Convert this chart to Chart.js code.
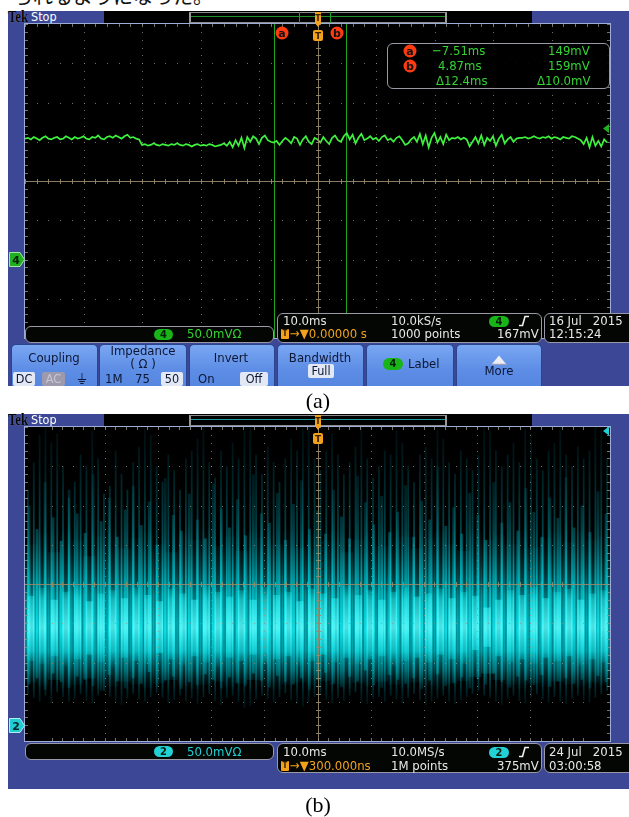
<!DOCTYPE html>
<html><head><meta charset="utf-8">
<script src="https://cdn.jsdelivr.net/npm/chart.js@4.4.1/dist/chart.umd.min.js"></script>
<style>
body{margin:0;width:629px;height:817px;overflow:hidden;background:#fff;position:relative;font-family:'DejaVu Sans Condensed','Liberation Sans Narrow','Roboto Condensed','DejaVu Sans',sans-serif;}
.a{position:absolute;box-sizing:border-box;}
.t{position:absolute;white-space:nowrap;line-height:14px;height:14px;font-size:13px;}
.c{transform:translateX(-50%);}
.frame{background:#3c4896;}
.hdr{background:#000;}
.gbox{border:1px solid #8c8c8c;border-left:2px solid #9a9a9a;border-right:2px solid #9a9a9a;}
.gridb{border:1px solid #9dadd6;background:#000;}
.rbox{border:1.5px solid #9a9aa6;border-radius:6px;background:#030603;}
.w{color:#e8e8e8}.g{color:#33d433}.o{color:#f4a21c}.cy{color:#22d0d6}
.badge{position:absolute;border-radius:6px;text-align:center;font-size:11px;line-height:11px;height:11px;font-weight:bold;color:#06200a;}
.btn{position:absolute;top:344px;height:42px;background:linear-gradient(#7aa7f3,#5d8de5 60%,#5687e0);border:1px solid #2a4590;border-bottom:none;border-radius:5px 5px 0 0;box-sizing:border-box;}
.bt{color:#0b1633;}
.sel{position:absolute;background:#e3e8f5;color:#0b1633;text-align:center;font-size:12.5px;line-height:14px;height:14px;border-radius:2px;}
.ser{font-family:'Liberation Serif','DejaVu Serif',serif;}
.tek{font-size:16px;line-height:14px;height:14px;font-weight:bold;color:#050505;white-space:nowrap;transform:scaleX(0.8);transform-origin:left center;text-shadow:0 0 1px #9aa3c4;}
</style></head>
<body>
<!-- caption fragment at top -->
<div class="a" style="left:13px;top:-15px;font-family:'Noto Sans CJK JP';font-size:20px;line-height:22px;color:#111;white-space:nowrap">られるようになった。</div>

<!-- ========== PANEL (a) ========== -->
<div class="a frame" style="left:8px;top:11px;width:621px;height:375px"></div>
<div class="a ser tek" style="left:8px;top:10px">Tek</div>
<div class="t" style="left:31px;top:10px;color:#fff;font-size:12.5px">Stop</div>
<div class="a hdr" style="left:104px;top:11px;width:428px;height:12px"></div>
<div class="a gbox" style="left:189px;top:12px;width:258px;height:11px"></div>
<div class="a" style="left:191px;top:16px;width:254px;height:1px;background:#1f8f1f"></div>
<div class="a" style="left:299px;top:12px;width:1px;height:11px;background:#1f9f1f"></div>
<div class="a" style="left:330px;top:12px;width:1px;height:11px;background:#1f9f1f"></div>
<div class="a gridb" style="left:24px;top:23px;width:587px;height:316px"></div>
<canvas id="cA" width="585" height="314" class="a" style="left:25px;top:24px"></canvas>
<svg class="a" style="left:312px;top:11px" width="12" height="31"><path d="M3,1 H9 V12 L6,16 L3,12 Z" fill="#f4a21c"/><text x="6" y="10" font-size="8" text-anchor="middle" font-family="DejaVu Sans" font-weight="bold" fill="#3a2000">T</text><rect x="1" y="19" width="10" height="11" rx="2" fill="#f4a21c"/><text x="6" y="28" font-size="9" text-anchor="middle" font-family="DejaVu Sans" font-weight="bold" fill="#3a2000">T</text></svg>
<svg class="a" style="left:275px;top:26px" width="15" height="15"><circle cx="7" cy="7" r="6.5" fill="#ff3b12"/><text x="7" y="11" font-size="11" text-anchor="middle" font-family="DejaVu Sans" font-weight="bold" fill="#111">a</text></svg>
<svg class="a" style="left:330px;top:26px" width="15" height="15"><circle cx="7" cy="7" r="6.5" fill="#ff3b12"/><text x="7" y="11" font-size="11" text-anchor="middle" font-family="DejaVu Sans" font-weight="bold" fill="#111">b</text></svg>
<!-- cursor readout -->
<div class="a rbox" style="left:387px;top:43px;width:223px;height:46px;background:rgba(0,0,0,0.9)"></div>
<svg class="a" style="left:403px;top:44px" width="15" height="15"><circle cx="7" cy="7" r="6.5" fill="#ff3b12"/><text x="7" y="11" font-size="11" text-anchor="middle" font-family="DejaVu Sans" font-weight="bold" fill="#111">a</text></svg>
<svg class="a" style="left:403px;top:59px" width="15" height="15"><circle cx="7" cy="7" r="6.5" fill="#ff3b12"/><text x="7" y="11" font-size="11" text-anchor="middle" font-family="DejaVu Sans" font-weight="bold" fill="#111">b</text></svg>
<div class="t g" style="left:432px;top:44px">−7.51ms</div>
<div class="t g" style="left:548px;top:44px">149mV</div>
<div class="t g" style="left:438px;top:59px">4.87ms</div>
<div class="t g" style="left:548px;top:59px">159mV</div>
<div class="t g" style="left:436px;top:74px">Δ12.4ms</div>
<div class="t g" style="left:537px;top:74px">Δ10.0mV</div>
<!-- ground marker -->
<svg class="a" style="left:9px;top:252px" width="17" height="15"><path d="M0.5,0.5 H11 L15.5,7.5 L11,14.5 H0.5 Z" fill="#22b022" stroke="#9fe89f" stroke-width="1"/><text x="7" y="12" font-size="11" text-anchor="middle" font-family="DejaVu Sans" font-weight="bold" fill="#062206">4</text></svg>
<!-- bottom readouts (a) -->
<div class="a rbox" style="left:25px;top:326px;width:249px;height:17px"></div>
<div class="badge" style="left:154px;top:329px;width:19px;background:#18b418">4</div>
<div class="t g" style="left:187px;top:327px">50.0mVΩ</div>
<div class="a rbox" style="left:277px;top:313px;width:265px;height:30px"></div>
<div class="t w" style="left:283px;top:314px">10.0ms</div>
<div class="t w" style="left:391px;top:314px">10.0kS/s</div>
<div class="badge" style="left:489px;top:316px;width:20px;background:#18b418">4</div>
<svg class="a" style="left:518px;top:315px" width="12" height="12"><path d="M1,10.5 H4.5 L7,1.5 H11" stroke="#f0f0f0" stroke-width="1.6" fill="none"/></svg>
<div class="a" style="left:281px;top:329px;width:8px;height:10px;background:#f4a21c;border-radius:1px;font-size:8px;line-height:10px;text-align:center;font-weight:bold;color:#2a1500">T</div>
<div class="t o" style="left:290px;top:327px">→▼0.00000 s</div>
<div class="t w" style="left:391px;top:327px">1000 points</div>
<div class="t w" style="left:497px;top:327px">167mV</div>
<div class="a rbox" style="left:544px;top:313px;width:95px;height:30px"></div>
<div class="t w" style="left:549px;top:314px;white-space:pre">16 Jul   2015</div>
<div class="t w" style="left:549px;top:327px">12:15:24</div>
<!-- buttons -->
<div class="btn" style="left:11px;width:87px"></div>
<div class="t bt c" style="left:54px;top:351px">Coupling</div>
<div class="sel" style="left:13px;top:372px;width:22px">DC</div>
<div class="sel" style="left:42px;top:372px;width:23px;background:#9d9aae;color:#c8c6d4">AC</div>
<div class="t bt" style="left:77px;top:372px;font-family:'DejaVu Sans';font-size:14px">⏚</div>
<div class="btn" style="left:99px;width:88px"></div>
<div class="t bt c" style="left:143px;top:344px">Impedance</div>
<div class="t bt c" style="left:143px;top:357px">( Ω )</div>
<div class="t bt" style="left:105px;top:372px">1M</div>
<div class="t bt" style="left:135px;top:372px">75</div>
<div class="sel" style="left:161px;top:372px;width:22px">50</div>
<div class="btn" style="left:189px;width:86px"></div>
<div class="t bt c" style="left:231px;top:351px">Invert</div>
<div class="t bt" style="left:198px;top:372px">On</div>
<div class="sel" style="left:240px;top:372px;width:28px">Off</div>
<div class="btn" style="left:277px;width:87px"></div>
<div class="t bt c" style="left:320px;top:351px">Bandwidth</div>
<div class="sel" style="left:308px;top:364px;width:26px;height:14px">Full</div>
<div class="btn" style="left:366px;width:88px"></div>
<div class="badge" style="left:383px;top:358px;width:20px;height:12px;line-height:12px;background:#18b418">4</div>
<div class="t bt" style="left:408px;top:357px">Label</div>
<div class="btn" style="left:456px;width:86px"></div>
<svg class="a" style="left:491px;top:355px" width="16" height="10"><path d="M8,0.5 L15.5,9.5 H0.5 Z" fill="#eceef6"/><path d="M0.5,9.5 H15.5" stroke="#9aa0b8" stroke-width="1.5"/></svg>
<div class="t bt c" style="left:499px;top:364px">More</div>
<div class="a ser" style="left:0;width:636px;top:388px;text-align:center;font-size:22px;line-height:26px;color:#000">(a)</div>

<!-- ========== PANEL (b) ========== -->
<div class="a frame" style="left:8px;top:414px;width:621px;height:375px"></div>
<div class="a ser tek" style="left:8px;top:413px">Tek</div>
<div class="t" style="left:31px;top:413px;color:#fff;font-size:12.5px">Stop</div>
<div class="a hdr" style="left:104px;top:414px;width:428px;height:12px"></div>
<div class="a gbox" style="left:189px;top:415px;width:258px;height:11px"></div>
<div class="a" style="left:191px;top:419px;width:254px;height:1px;background:#1a9a9a"></div>
<div class="a gridb" style="left:24px;top:426px;width:587px;height:316px"></div>
<canvas id="cB" width="585" height="314" class="a" style="left:25px;top:427px"></canvas>
<svg class="a" style="left:312px;top:414px" width="12" height="31"><path d="M3,1 H9 V12 L6,16 L3,12 Z" fill="#f4a21c"/><text x="6" y="10" font-size="8" text-anchor="middle" font-family="DejaVu Sans" font-weight="bold" fill="#3a2000">T</text><rect x="1" y="19" width="10" height="11" rx="2" fill="#f4a21c"/><text x="6" y="28" font-size="9" text-anchor="middle" font-family="DejaVu Sans" font-weight="bold" fill="#3a2000">T</text></svg>
<svg class="a" style="left:9px;top:718px" width="17" height="15"><path d="M0.5,0.5 H11 L15.5,7.5 L11,14.5 H0.5 Z" fill="#22ccd4" stroke="#a8f4f4" stroke-width="1"/><text x="7" y="12" font-size="11" text-anchor="middle" font-family="DejaVu Sans" font-weight="bold" fill="#032424">2</text></svg>
<div class="a rbox" style="left:25px;top:743px;width:249px;height:17px"></div>
<div class="badge" style="left:154px;top:746px;width:19px;background:#22d0d6">2</div>
<div class="t cy" style="left:187px;top:745px">50.0mVΩ</div>
<div class="a rbox" style="left:277px;top:743px;width:265px;height:30px"></div>
<div class="t w" style="left:283px;top:745px">10.0ms</div>
<div class="t w" style="left:391px;top:745px">10.0MS/s</div>
<div class="badge" style="left:489px;top:747px;width:20px;background:#22d0d6">2</div>
<svg class="a" style="left:518px;top:746px" width="12" height="12"><path d="M1,10.5 H4.5 L7,1.5 H11" stroke="#f0f0f0" stroke-width="1.6" fill="none"/></svg>
<div class="a" style="left:281px;top:761px;width:8px;height:10px;background:#f4a21c;border-radius:1px;font-size:8px;line-height:10px;text-align:center;font-weight:bold;color:#2a1500">T</div>
<div class="t o" style="left:290px;top:759px">→▼300.000ns</div>
<div class="t w" style="left:391px;top:759px">1M points</div>
<div class="t w" style="left:497px;top:759px">375mV</div>
<div class="a rbox" style="left:544px;top:743px;width:95px;height:30px"></div>
<div class="t w" style="left:549px;top:745px;white-space:pre">24 Jul   2015</div>
<div class="t w" style="left:549px;top:759px">03:00:58</div>
<div class="a ser" style="left:0;width:636px;top:792px;text-align:center;font-size:22px;line-height:26px;color:#000">(b)</div>

<script>
// ---------- shared axis divisions ----------
const timeDivsMs = [-50, -40, -30, -20, -10, 0, 10, 20, 30, 40, 50];

// ---------- panel (a): CH4, 50 mV/div, 10 ms/div, 10 kS/s ----------
const voltDivsA = [-100, -50, 0, 50, 100, 150, 200, 250, 300];
const traceA_startMs = -50;
const traceA_stepMs = 0.5;
const traceA_mV = [
  154,155,153,156,154,152,155,157,154,153,
  155,156,153,154,157,155,153,156,154,155,
  157,154,153,156,155,158,154,153,156,157,
  155,158,156,154,157,159,155,156,154,153,
  146,147,145,146,148,146,145,147,146,145,
  147,146,148,146,145,147,146,144,146,147,
  145,146,145,147,146,144,145,146,148,145,
  150,143,
  152,145,155,142,156,150,157,154,
  147,155,158,152,150,149,151,146,151,155,
  152,148,156,154,146,153,157,150,147,155,
  153,149,156,151,147,155,158,152,150,157,
  161,153,159,148,155,160,152,154,157,153,
  155,151,156,158,152,154,150,155,157,152,
  146,148,153,156,150,160,147,158,143,155,
  161,149,156,147,159,152,155,154,156,153,
  155,153,144,150,156,148,158,146,155,151,
  157,145,154,159,148,153,156,150,154,155,
  155,156,154,155,157,155,154,156,155,157,
  154,156,155,153,156,155,154,157,156,154,
  152,147,155,143,156,145,151,144,153,149
];
const cursorsMs = [-7.51, 4.87];
const triggerLevelA_mV = 167;

// ---------- panel (b): CH2, 50 mV/div, 10 ms/div, persistence envelope ----------
const voltDivsB = [-20, 30, 80, 130, 180, 230, 280, 330, 380];
const triggerLevelB_mV = 375;
// 100 columns (1 ms each): full extent of the tallest noise spikes
const spikeHiB = [
  300,335,370,380,360,372,330,290,310,345,
  330,375,340,295,305,350,320,300,335,355,
  378,370,330,310,345,325,300,340,350,365,
  380,335,315,350,330,360,340,375,380,345,
  320,355,335,310,340,365,350,378,382,340,
  325,350,372,345,320,335,355,380,340,315,
  330,350,345,376,360,330,310,345,355,340,
  378,365,335,320,350,340,325,345,380,376,
  350,330,345,360,335,378,372,340,325,350,
  360,382,345,330,355,340,350,380,376,340
];
const spikeLoB = [
  40,35,30,38,28,42,36,30,34,40,
  32,28,38,44,36,30,26,34,40,33,
  30,36,42,35,28,32,38,30,34,27,
  36,40,31,26,35,38,30,22,25,33,
  38,34,29,36,41,32,27,24,30,36,
  40,33,28,35,31,38,42,30,27,34,
  36,30,38,33,28,35,40,32,26,30,
  34,38,30,27,32,36,40,44,38,35,
  30,26,34,38,31,28,35,40,33,29,
  36,30,27,34,38,32,29,35,40,44
];
// 73 columns: medium-height streaks
const streakHiB = [
  280,250,310,265,235,300,270,245,320,260,
  290,240,275,305,255,285,230,315,268,248,
  295,262,238,308,276,252,288,242,320,270,
  258,296,236,282,312,250,274,244,300,266,
  238,318,284,256,292,246,272,306,240,286,
  262,330,254,278,244,296,268,236,310,258,
  284,248,302,272,240,290,264,316,252,280,
  246,298,270
];
const streakLoB = [
  52,60,45,66,55,48,62,58,50,44,
  64,56,47,60,53,68,49,57,62,46,
  55,51,65,58,47,61,54,50,66,57,
  48,63,55,52,60,45,58,67,53,49,
  62,56,70,51,48,64,58,53,60,46,
  57,65,50,54,61,47,59,52,66,55,
  48,62,57,51,64,49,56,60,53,58,
  47,63,55
];
// 50 columns (2 ms each): dense body and bright core of the band
const bodyHiB = [230,245,220,250,235,215,240,255,225,238,248,230,220,245,236,252,228,240,222,246,238,230,250,226,242,234,248,220,236,244,228,252,240,225,238,246,230,222,248,236,242,230,250,226,238,244,232,248,236,240];
const bodyLoB = [55,50,58,48,52,60,46,50,56,52,48,54,58,50,47,52,56,49,53,58,50,46,52,55,49,57,51,47,54,50,56,52,48,55,50,46,53,57,62,66,58,52,48,54,50,56,52,49,55,51];
const coreHiB = [165,175,160,170,178,158,168,172,162,176,166,158,174,168,160,178,170,164,172,160,176,166,170,158,174,168,162,178,166,172,160,170,176,164,168,174,162,170,165,150,160,172,166,176,162,170,174,160,168,172];
const coreLoB = [82,78,88,76,84,90,80,74,86,82,78,92,84,76,88,80,74,86,82,90,78,84,88,76,82,90,80,86,78,84,88,76,82,86,80,90,84,78,96,100,88,80,84,78,86,82,88,76,84,80];

// ---------- plugins ----------
const scopeGrid = {
  id: 'scopeGrid',
  afterDatasetsDraw(chart, args, o) {
    const {ctx, chartArea: ca} = chart;
    const xs = chart.scales[o.xAxis], ys = chart.scales.y;
    const xd = o.xDivs, yd = o.yDivs;
    const xp = xd.map(v => xs.getPixelForValue(v)), yp = yd.map(v => ys.getPixelForValue(v));
    const xMinor = [], yMinor = [];
    for (let i = 0; i < xp.length - 1; i++) for (let m = 0; m < 5; m++) xMinor.push(xp[i] + (xp[i+1] - xp[i]) * m / 5);
    xMinor.push(xp[xp.length-1]);
    for (let i = 0; i < yp.length - 1; i++) for (let m = 0; m < 5; m++) yMinor.push(yp[i] + (yp[i+1] - yp[i]) * m / 5);
    yMinor.push(yp[yp.length-1]);
    ctx.save();
    ctx.fillStyle = 'rgba(150,145,130,0.75)';
    xp.forEach((px, i) => { if (i === 0 || i === xp.length-1 || i === 5) return; yMinor.forEach(py => ctx.fillRect(Math.round(px), Math.round(py), 1, 1)); });
    yp.forEach((py, i) => { if (i === 0 || i === yp.length-1 || i === 4) return; xMinor.forEach(px => ctx.fillRect(Math.round(px), Math.round(py), 1, 1)); });
    const cx = Math.round(xp[5]) + 0.5, cy = Math.round(yp[4]) + 0.5;
    ctx.strokeStyle = 'rgba(150,138,105,0.9)';
    ctx.lineWidth = 1;
    ctx.beginPath();
    ctx.moveTo(ca.left, cy); ctx.lineTo(ca.right, cy);
    ctx.moveTo(cx, ca.top); ctx.lineTo(cx, ca.bottom);
    xMinor.forEach(px => { ctx.moveTo(Math.round(px)+0.5, cy-2.5); ctx.lineTo(Math.round(px)+0.5, cy+2.5); });
    yMinor.forEach(py => { ctx.moveTo(cx-2.5, Math.round(py)+0.5); ctx.lineTo(cx+2.5, Math.round(py)+0.5); });
    ctx.stroke();
    ctx.strokeStyle = 'rgba(150,145,130,0.8)';
    ctx.beginPath();
    xMinor.forEach(px => { const x = Math.round(px)+0.5; ctx.moveTo(x, ca.top); ctx.lineTo(x, ca.top+3); ctx.moveTo(x, ca.bottom); ctx.lineTo(x, ca.bottom-3); });
    yMinor.forEach(py => { const y = Math.round(py)+0.5; ctx.moveTo(ca.left, y); ctx.lineTo(ca.left+3, y); ctx.moveTo(ca.right, y); ctx.lineTo(ca.right-3, y); });
    ctx.stroke();
    if (o.trigLevel !== undefined) {
      const ty = ys.getPixelForValue(o.trigLevel);
      ctx.fillStyle = o.trigColor;
      ctx.beginPath();
      ctx.moveTo(ca.right - 7, ty); ctx.lineTo(ca.right - 1, ty - 4.5); ctx.lineTo(ca.right - 1, ty + 4.5); ctx.closePath(); ctx.fill();
    }
    ctx.restore();
  }
};
const cursorPlugin = {
  id: 'cursorLines',
  beforeDatasetsDraw(chart, args, o) {
    if (!o.values) return;
    const {ctx, chartArea: ca} = chart;
    const xs = chart.scales.x;
    ctx.save();
    ctx.strokeStyle = '#1fa61f';
    ctx.lineWidth = 1;
    ctx.beginPath();
    o.values.forEach(v => { const x = Math.round(xs.getPixelForValue(v)) + 0.5; ctx.moveTo(x, ca.top); ctx.lineTo(x, ca.bottom); });
    ctx.stroke();
    ctx.restore();
  }
};

const common = {responsive: false, animation: false, devicePixelRatio: 1, events: [], layout: {padding: 0}};

// ---------- chart (a) ----------
new Chart(document.getElementById('cA'), {
  type: 'line',
  data: {datasets: [{
    data: traceA_mV.map((v, i) => ({x: traceA_startMs + i * traceA_stepMs, y: v})),
    borderColor: '#3ef23e', borderWidth: 1.7, pointRadius: 0, tension: 0
  }]},
  options: Object.assign({}, common, {
    plugins: {legend: {display: false}, tooltip: {enabled: false},
      scopeGrid: {xAxis: 'x', xDivs: timeDivsMs, yDivs: voltDivsA, trigLevel: triggerLevelA_mV, trigColor: '#22b022'},
      cursorLines: {values: cursorsMs}},
    scales: {
      x: {type: 'linear', min: -50, max: 50, display: false},
      y: {type: 'linear', min: -100, max: 300, display: false}
    }
  }),
  plugins: [scopeGrid, cursorPlugin]
});

// ---------- chart (b) ----------
function profile(stops) {
  return (c) => {
    const ch = c.chart, ca = ch.chartArea;
    if (!ca) return 'rgba(0,0,0,0)';
    const ys = ch.scales.y;
    const g = ch.ctx.createLinearGradient(0, ca.top, 0, ca.bottom);
    stops.forEach(([v, col]) => {
      const p = Math.min(1, Math.max(0, (ys.getPixelForValue(v) - ca.top) / (ca.bottom - ca.top)));
      g.addColorStop(p, col);
    });
    return g;
  };
}
const barBase = {grouped: false, categoryPercentage: 1, borderWidth: 0, borderSkipped: false};
new Chart(document.getElementById('cB'), {
  type: 'bar',
  data: {
    labels: spikeHiB.map((_, i) => i),
    datasets: [
      Object.assign({data: coreHiB.map((h, i) => [coreLoB[i], h]), xAxisID: 'x2', order: 1, barPercentage: 0.6,
       backgroundColor: profile([[185,'rgba(0,230,235,0.0)'],[160,'rgba(60,255,255,0.45)'],[125,'rgba(110,255,255,0.7)'],[95,'rgba(40,245,250,0.45)'],[72,'rgba(0,200,210,0.0)']])}, barBase),
      Object.assign({data: spikeHiB.map((h, i) => [spikeLoB[i], h]), xAxisID: 'x', order: 2, barPercentage: 0.3,
       backgroundColor: profile([[385,'rgba(0,70,80,0.2)'],[320,'rgba(0,95,105,0.35)'],[250,'rgba(0,135,145,0.5)'],[190,'rgba(0,200,210,0.7)'],[120,'rgba(20,240,245,0.85)'],[70,'rgba(0,170,180,0.6)'],[40,'rgba(0,90,100,0.35)'],[15,'rgba(0,60,70,0.2)']])}, barBase),
      Object.assign({data: streakHiB.map((h, i) => [streakLoB[i], h]), xAxisID: 'x3', order: 2, barPercentage: 0.35,
       backgroundColor: profile([[330,'rgba(0,80,90,0.25)'],[260,'rgba(0,120,130,0.45)'],[190,'rgba(0,190,200,0.65)'],[120,'rgba(20,235,240,0.8)'],[70,'rgba(0,160,170,0.55)'],[45,'rgba(0,90,100,0.3)']])}, barBase),
      Object.assign({data: bodyHiB.map((h, i) => [bodyLoB[i], h]), xAxisID: 'x2', order: 3, barPercentage: 1,
       backgroundColor: profile([[255,'rgba(0,90,100,0.0)'],[225,'rgba(0,105,115,0.14)'],[195,'rgba(0,140,150,0.35)'],[165,'rgba(0,185,195,0.6)'],[130,'rgba(0,205,215,0.75)'],[95,'rgba(0,190,200,0.7)'],[70,'rgba(0,130,140,0.4)'],[50,'rgba(0,80,90,0.08)']])}, barBase)
    ]
  },
  options: Object.assign({}, common, {
    plugins: {legend: {display: false}, tooltip: {enabled: false},
      scopeGrid: {xAxis: 'xt', xDivs: timeDivsMs, yDivs: voltDivsB, trigLevel: triggerLevelB_mV, trigColor: '#22d0d6'}},
    scales: {
      x: {type: 'category', offset: true, display: false},
      x2: {type: 'category', axis: 'x', labels: bodyHiB.map((_, i) => i), offset: true, display: false},
      x3: {type: 'category', axis: 'x', labels: streakHiB.map((_, i) => i), offset: true, display: false},
      xt: {type: 'linear', axis: 'x', min: -50, max: 50, display: false},
      y: {type: 'linear', min: -20, max: 380, display: false}
    }
  }),
  plugins: [scopeGrid]
});
</script>
</body></html>
